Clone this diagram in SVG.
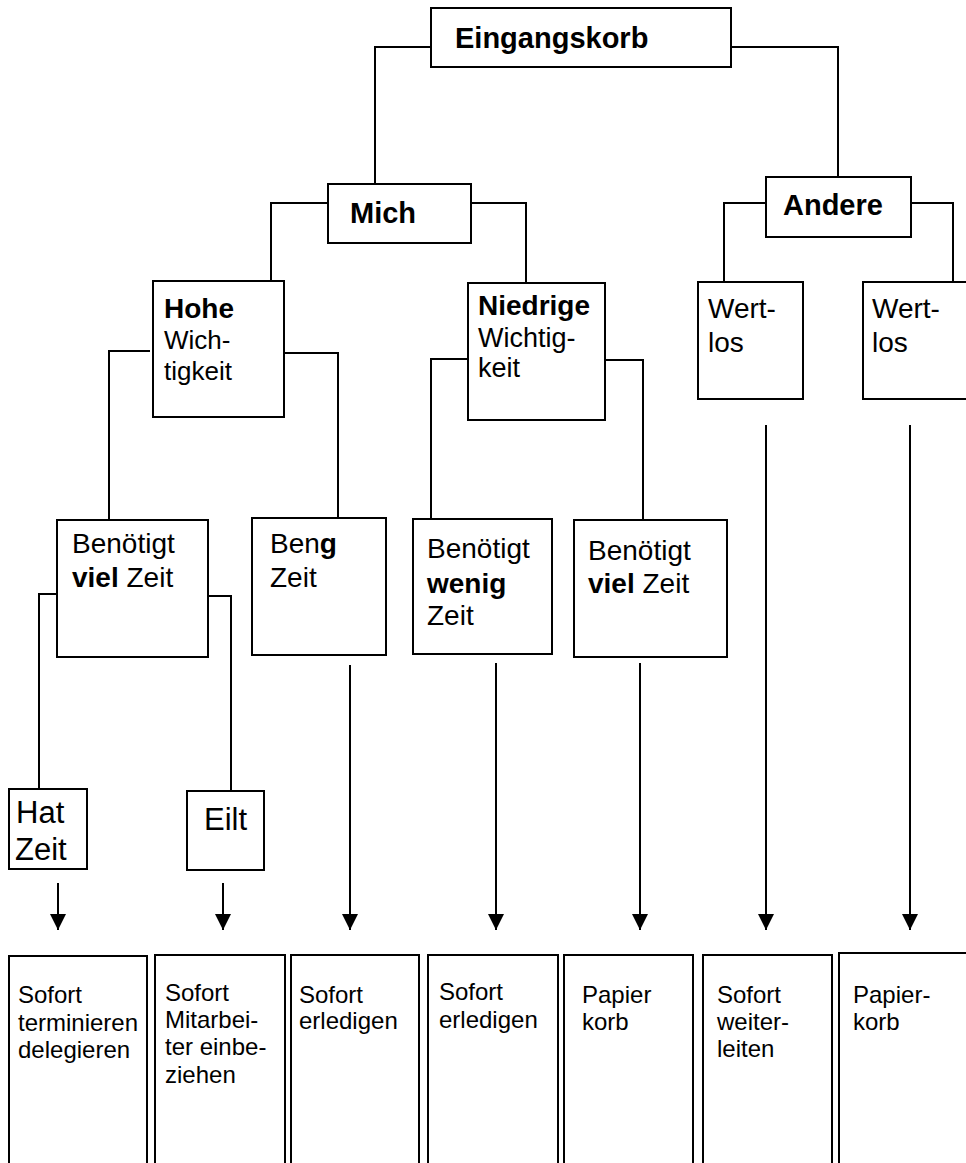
<svg xmlns="http://www.w3.org/2000/svg" width="966" height="1163" viewBox="0 0 966 1163">
<style>
.box{fill:#fff;stroke:#000;stroke-width:2}
.ln{fill:none;stroke:#000;stroke-width:2}
text{font-family:"Liberation Sans",Arial,sans-serif;fill:#000}
.b{font-weight:bold}
.t28{font-size:28px}
.t27{font-size:27px}
.t26{font-size:26px}
.t29{font-size:29px}
.t31{font-size:31px}
.t24{font-size:24px}
</style>
<defs>
<marker id="ah" viewBox="0 0 16 16" refX="16" refY="8" markerWidth="16" markerHeight="16" markerUnits="userSpaceOnUse" orient="auto">
<path d="M0,0 L16,8 L0,16 z" fill="#000"/>
</marker>
</defs>
<rect width="966" height="1163" fill="#fff"/>
<g id="connectors">
<path class="ln" d="M431,47 H375 V184"/>
<path class="ln" d="M731,47 H838 V177"/>
<path class="ln" d="M328,203 H271 V281"/>
<path class="ln" d="M471,203 H526 V283"/>
<path class="ln" d="M766,203 H724 V282"/>
<path class="ln" d="M911,203 H953 V282"/>
<path class="ln" d="M150,351 H109 V520"/>
<path class="ln" d="M284,353 H338 V518"/>
<path class="ln" d="M468,359 H431 V519"/>
<path class="ln" d="M605,360 H643 V520"/>
<path class="ln" d="M57,594 H39 V789"/>
<path class="ln" d="M208,596 H231 V791"/>
<path class="ln" d="M58,883 V930" marker-end="url(#ah)"/>
<path class="ln" d="M223,883 V930" marker-end="url(#ah)"/>
<path class="ln" d="M350,665 V930" marker-end="url(#ah)"/>
<path class="ln" d="M496,663 V930" marker-end="url(#ah)"/>
<path class="ln" d="M640,663 V930" marker-end="url(#ah)"/>
<path class="ln" d="M766,425 V930" marker-end="url(#ah)"/>
<path class="ln" d="M910,425 V930" marker-end="url(#ah)"/>
</g>
<g id="eingangskorb"><rect class="box" x="431" y="8" width="300" height="59"/><text class="b t29" x="455" y="48">Eingangskorb</text></g>
<g id="mich"><rect class="box" x="328" y="184" width="143" height="59"/><text class="b t29" x="350" y="223">Mich</text></g>
<g id="andere"><rect class="box" x="766" y="177" width="145" height="60"/><text class="b t29" x="783" y="215">Andere</text></g>
<g id="hohe"><rect class="box" x="153" y="281" width="131" height="136"/><text class="b t28" x="164" y="318">Hohe</text><text class="t26" x="164" y="349">Wich-</text><text class="t26" x="164" y="380">tigkeit</text></g>
<g id="niedrige"><rect class="box" x="468" y="283" width="137" height="137"/><text class="b t28" x="478" y="315">Niedrige</text><text class="t27" x="478" y="347">Wichtig-</text><text class="t27" x="478" y="377">keit</text></g>
<g id="wertlos1"><rect class="box" x="698" y="282" width="105" height="117"/><text class="t28" x="708" y="318">Wert-</text><text class="t28" x="708" y="352">los</text></g>
<g id="wertlos2"><rect class="box" x="863" y="282" width="120" height="117"/><text class="t28" x="872" y="318">Wert-</text><text class="t28" x="872" y="352">los</text></g>
<g id="box1"><rect class="box" x="57" y="520" width="151" height="137"/><text class="t28" x="72" y="553">Benötigt</text><text class="t28" x="72" y="587"><tspan class="b">viel</tspan> Zeit</text></g>
<g id="box2"><rect class="box" x="252" y="518" width="134" height="137"/><text class="t28" x="270" y="553">Ben<tspan class="b">g</tspan></text><text class="t28" x="270" y="587">Zeit</text></g>
<g id="box3"><rect class="box" x="413" y="519" width="139" height="135"/><text class="t28" x="427" y="558">Benötigt</text><text class="b t28" x="427" y="593">wenig</text><text class="t28" x="427" y="625">Zeit</text></g>
<g id="box4"><rect class="box" x="574" y="520" width="153" height="137"/><text class="t28" x="588" y="560">Benötigt</text><text class="t28" x="588" y="593"><tspan class="b">viel</tspan> Zeit</text></g>
<g id="hatzeit"><rect class="box" x="9" y="789" width="78" height="80"/><text class="t31" x="16" y="823">Hat</text><text class="t31" x="15" y="860">Zeit</text></g>
<g id="eilt"><rect class="box" x="187" y="791" width="77" height="79"/><text class="t31" x="204" y="830">Eilt</text></g>
<g id="outA"><rect class="box" x="9" y="956" width="138" height="220"/><text class="t24" x="18" y="1003">Sofort</text><text class="t24" x="18" y="1031">terminieren</text><text class="t24" x="18" y="1058">delegieren</text></g>
<g id="outB"><rect class="box" x="155" y="955" width="130" height="220"/><text class="t24" x="165" y="1001">Sofort</text><text class="t24" x="165" y="1028">Mitarbei-</text><text class="t24" x="165" y="1055">ter einbe-</text><text class="t24" x="165" y="1083">ziehen</text></g>
<g id="outC"><rect class="box" x="291" y="955" width="128" height="220"/><text class="t24" x="299" y="1003">Sofort</text><text class="t24" x="299" y="1029">erledigen</text></g>
<g id="outD"><rect class="box" x="428" y="955" width="130" height="220"/><text class="t24" x="439" y="1000">Sofort</text><text class="t24" x="439" y="1028">erledigen</text></g>
<g id="outE"><rect class="box" x="564" y="955" width="129" height="220"/><text class="t24" x="582" y="1003">Papier</text><text class="t24" x="582" y="1030">korb</text></g>
<g id="outF"><rect class="box" x="703" y="955" width="129" height="220"/><text class="t24" x="717" y="1003">Sofort</text><text class="t24" x="717" y="1030">weiter-</text><text class="t24" x="717" y="1057">leiten</text></g>
<g id="outG"><rect class="box" x="839" y="953" width="140" height="220"/><text class="t24" x="853" y="1003">Papier-</text><text class="t24" x="853" y="1030">korb</text></g>
</svg>
